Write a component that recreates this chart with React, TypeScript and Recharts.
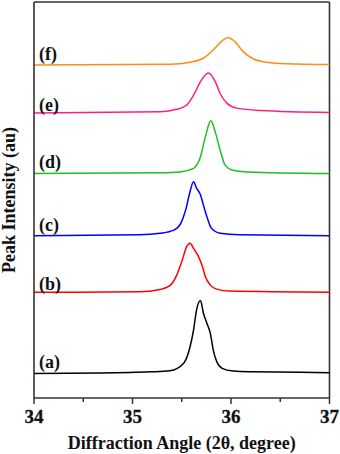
import React from 'react';
import { LineChart, Line, XAxis, YAxis, ReferenceLine, ReferenceDot } from 'recharts';

// Diffraction angle (2θ, degree) and peak intensity (au)
const angleA = [34.0, 34.67, 35.18, 35.38, 35.52, 35.585, 35.62, 35.65, 35.69, 35.72, 35.755, 35.79, 35.82, 35.855, 35.91, 36.02, 36.19, 36.7, 37.0];
const intensityA = [6.2, 6.3, 6.6, 6.9, 8.8, 13.0, 17.2, 22.2, 24.6, 21.4, 18.9, 16.3, 12.1, 9.2, 7.5, 6.8, 6.6, 6.5, 6.4];

const angleB = [34.0, 35.07, 35.28, 35.385, 35.45, 35.5, 35.55, 35.585, 35.62, 35.67, 35.705, 35.74, 35.79, 35.855, 35.99, 37.0];
const intensityB = [26.7, 26.8, 27.4, 28.5, 31.1, 34.4, 38.2, 39.1, 37.8, 35.7, 33.6, 30.6, 28.5, 27.5, 27.0, 26.7];

const angleC = [34.0, 35.07, 35.28, 35.42, 35.49, 35.54, 35.58, 35.62, 35.65, 35.69, 35.72, 35.755, 35.8, 35.89, 36.09, 37.0];
const intensityC = [41.0, 41.2, 41.6, 42.4, 44.1, 47.5, 51.7, 54.6, 53.0, 51.3, 48.7, 45.8, 42.9, 41.6, 41.2, 41.0];

const angleD = [34.0, 35.28, 35.48, 35.62, 35.69, 35.74, 35.795, 35.84, 35.89, 35.94, 36.01, 36.16, 37.0];
const intensityD = [56.7, 56.9, 57.1, 58.0, 60.9, 66.0, 70.0, 67.2, 62.6, 58.8, 57.6, 57.1, 56.7];

const angleE = [34.0, 35.28, 35.45, 35.55, 35.62, 35.69, 35.77, 35.84, 35.89, 35.96, 36.06, 36.3, 37.0];
const intensityE = [72.0, 72.3, 72.9, 74.0, 76.5, 79.9, 82.1, 79.9, 76.9, 74.4, 73.2, 72.6, 72.1];

const angleF = [34.0, 35.38, 35.585, 35.72, 35.82, 35.91, 35.97, 36.04, 36.125, 36.23, 36.36, 36.57, 37.0];
const intensityF = [84.1, 84.3, 84.8, 85.8, 87.9, 90.2, 91.0, 90.0, 87.4, 85.6, 84.8, 84.4, 84.2];

const sampleLabels = ['(a)', '(b)', '(c)', '(d)', '(e)', '(f)'];
const labelIntensity = [9.3, 29.0, 43.9, 59.6, 74.0, 86.9];

const majorTicks = [34, 35, 36, 37];
const allTicks = [34, 34.5, 35, 35.5, 36, 36.5, 37];

const colors = ['#000000', '#ff0000', '#0000ff', '#1cbf1c', '#ff1f7f', '#ff8c1a'];

const toPoints = (xs: number[], ys: number[]) => xs.map((x, i) => ({ angle: x, intensity: ys[i] }));

const seriesData = [
  toPoints(angleA, intensityA),
  toPoints(angleB, intensityB),
  toPoints(angleC, intensityC),
  toPoints(angleD, intensityD),
  toPoints(angleE, intensityE),
  toPoints(angleF, intensityF),
];

const FONT = '"Liberation Serif", "Times New Roman", serif';
const AXIS = '#333333';

function AngleTick(props: any) {
  const { x, y, payload } = props;
  const v = payload.value;
  const major = majorTicks.includes(v);
  return (
    <g>
      <line x1={x} x2={x} y1={y} y2={y + (major ? 6 : 4)} stroke={AXIS} strokeWidth={1.5} />
      {major && (
        <text
          x={x}
          y={y + 25}
          textAnchor="middle"
          fontFamily="Liberation Serif"
          fontWeight="bold"
          fontSize={19}
          fill="#111"
          stroke="#111"
          strokeWidth={0.3}
          style={{ fontFamily: FONT, fontWeight: 700 }}
        >
          {String(v)}
        </text>
      )}
    </g>
  );
}

export default function App() {
  return (
    <div style={{ position: 'absolute', left: 0, top: 0, width: 340, height: 454, background: '#fff' }}>
      <LineChart width={340} height={454} margin={{ top: 2, right: 10.5, bottom: 0, left: 0 }}>
        <XAxis
          dataKey="angle"
          type="number"
          domain={[34, 37]}
          ticks={allTicks}
          interval={0}
          allowDuplicatedCategory={false}
          tickSize={0}
          tickMargin={0}
          tickLine={false}
          tick={<AngleTick />}
          height={56}
          axisLine={{ stroke: AXIS, strokeWidth: 1.6 }}
          label={{
            value: 'Diffraction Angle (2θ, degree)',
            position: 'insideBottom',
            offset: 5,
            style: { fontFamily: FONT, fontWeight: 'bold', fontSize: 18, fill: '#111' },
          }}
        />
        <YAxis
          type="number"
          domain={[0, 100]}
          width={34}
          tick={false}
          tickLine={false}
          axisLine={{ stroke: AXIS, strokeWidth: 1.6 }}
          label={{
            value: 'Peak Intensity (au)',
            angle: -90,
            position: 'insideLeft',
            offset: 9,
            style: { textAnchor: 'middle', fontFamily: FONT, fontWeight: 'bold', fontSize: 18, fill: '#111' },
          }}
        />
        <ReferenceLine y={100} stroke={AXIS} strokeWidth={1.6} ifOverflow="visible" />
        <ReferenceLine x={37} stroke={AXIS} strokeWidth={1.6} ifOverflow="visible" />
        {seriesData.map((d, i) => (
          <Line
            key={sampleLabels[i]}
            data={d}
            dataKey="intensity"
            type="monotone"
            stroke={colors[i]}
            strokeWidth={1.5}
            dot={false}
            isAnimationActive={false}
          />
        ))}
        {sampleLabels.map((name, i) => (
          <ReferenceDot
            key={name}
            x={34}
            y={labelIntensity[i]}
            r={0}
            fill="none"
            stroke="none"
            ifOverflow="visible"
            label={{
              value: name,
              position: 'right',
              offset: 5,
              style: { fontFamily: FONT, fontWeight: 'bold', fontSize: 18, fill: '#111' },
            }}
          />
        ))}
      </LineChart>
    </div>
  );
}
